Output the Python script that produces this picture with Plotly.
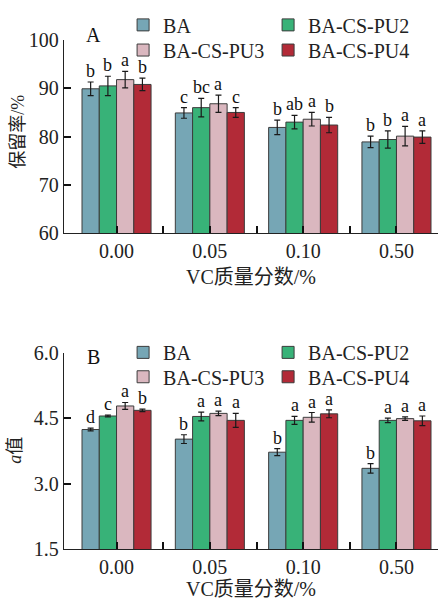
import plotly.graph_objects as go

# ---------------- data ----------------
categories = ["0.00", "0.05", "0.10", "0.50"]
series_names = ["BA", "BA-CS-PU2", "BA-CS-PU3", "BA-CS-PU4"]
colors = ["#76a6b5", "#38b278", "#dab7bf", "#b22a37"]

# Panel A: retention rate (%)
ret_BA = [89.9, 84.9, 81.9, 78.9]
ret_PU2 = [90.5, 86.0, 83.0, 79.4]
ret_PU3 = [91.8, 86.8, 83.6, 80.1]
ret_PU4 = [90.8, 85.0, 82.4, 79.9]
ret_err_BA = [1.4, 1.1, 1.5, 1.2]
ret_err_PU2 = [2.0, 1.9, 1.4, 1.8]
ret_err_PU3 = [1.7, 1.8, 1.4, 2.0]
ret_err_PU4 = [1.3, 1.0, 1.6, 1.3]
ret_sig_BA = ["b", "c", "b", "b"]
ret_sig_PU2 = ["b", "bc", "ab", "b"]
ret_sig_PU3 = ["a", "a", "a", "a"]
ret_sig_PU4 = ["b", "c", "b", "a"]

# Panel B: a* value
a_BA = [4.24, 4.02, 3.72, 3.35]
a_PU2 = [4.55, 4.54, 4.45, 4.45]
a_PU3 = [4.78, 4.61, 4.52, 4.49]
a_PU4 = [4.68, 4.45, 4.60, 4.44]
a_err_BA = [0.03, 0.10, 0.08, 0.11]
a_err_PU2 = [0.02, 0.10, 0.09, 0.05]
a_err_PU3 = [0.08, 0.05, 0.11, 0.04]
a_err_PU4 = [0.03, 0.16, 0.09, 0.11]
a_sig_BA = ["d", "b", "b", "b"]
a_sig_PU2 = ["c", "a", "a", "a"]
a_sig_PU3 = ["a", "a", "a", "a"]
a_sig_PU4 = ["b", "a", "a", "a"]

ret_vals = [ret_BA, ret_PU2, ret_PU3, ret_PU4]
ret_errs = [ret_err_BA, ret_err_PU2, ret_err_PU3, ret_err_PU4]
ret_sigs = [ret_sig_BA, ret_sig_PU2, ret_sig_PU3, ret_sig_PU4]
a_vals = [a_BA, a_PU2, a_PU3, a_PU4]
a_errs = [a_err_BA, a_err_PU2, a_err_PU3, a_err_PU4]
a_sigs = [a_sig_BA, a_sig_PU2, a_sig_PU3, a_sig_PU4]

# ---------------- style ----------------
SERIF = "Liberation Serif, Times New Roman, Noto Sans CJK SC, serif"
FS = 20
BARGAP = 0.26
n_series = len(series_names)
bar_w = (1 - BARGAP) / n_series
xpos = list(range(len(categories)))
XRANGE = [-0.563, 3.445]

# x tick positions: category centres (labelled) and group separators (unlabelled)
x_tickvals, x_ticktext = [], []
for i, c in zip(xpos, categories):
    x_tickvals.append(i)
    x_ticktext.append(c)
    if i < len(categories) - 1:
        x_tickvals.append(i + 0.5)
        x_ticktext.append("")

fig = go.Figure()
annotations = []

# each panel: two legend rows (first two series / last two series)
panels = [
    ("x", "y", ["legend", "legend", "legend3", "legend3"], ret_vals, ret_errs, ret_sigs),
    ("x2", "y2", ["legend2", "legend2", "legend4", "legend4"], a_vals, a_errs, a_sigs),
]
for xa, ya, legs, vals, errs, sigs in panels:
    for j in range(n_series):
        fig.add_trace(go.Bar(
            x=xpos, y=vals[j], name=series_names[j],
            xaxis=xa, yaxis=ya, legend=legs[j], offsetgroup=str(j),
            marker=dict(color=colors[j], line=dict(color="#3c3c3c", width=1)),
            error_y=dict(type="data", array=errs[j], color="#1a1a1a",
                         thickness=1.2, width=3),
        ))
        for i in xpos:
            annotations.append(dict(
                x=i + (j - (n_series - 1) / 2) * bar_w,
                y=vals[j][i] + errs[j][i],
                xref=xa, yref=ya, text=sigs[j][i], showarrow=False,
                yanchor="bottom", yshift=-1,
                font=dict(family=SERIF, size=18, color="#111"),
            ))

# panel letters and y-axis titles
annotations += [
    dict(x=0.08, y=1.01, xref="paper", yref="paper", text="A", showarrow=False,
         font=dict(family=SERIF, size=FS, color="#111"), xanchor="center", yanchor="middle"),
    dict(x=0.078, y=0.378, xref="paper", yref="paper", text="B", showarrow=False,
         font=dict(family=SERIF, size=FS, color="#111"), xanchor="center", yanchor="middle"),
    dict(x=-0.125, y=0.82, xref="paper", yref="paper", text="保留率/%", showarrow=False,
         textangle=-90, font=dict(family=SERIF, size=18, color="#222"),
         xanchor="center", yanchor="middle"),
    dict(x=-0.13, y=0.194, xref="paper", yref="paper", text="<i>a</i>值", showarrow=False,
         textangle=-90, font=dict(family=SERIF, size=18, color="#222"),
         xanchor="center", yanchor="middle"),
]

xaxis_common = dict(
    range=XRANGE, tickvals=x_tickvals, ticktext=x_ticktext,
    ticks="inside", ticklen=7, tickcolor="#111", tickwidth=1.6,
    showline=True, linecolor="#222", linewidth=1.3, showgrid=False, zeroline=False,
    tickfont=dict(family=SERIF, size=FS, color="#222"),
    title=dict(text="VC质量分数/%", font=dict(family=SERIF, size=FS, color="#222"),
               standoff=8),
)
yaxis_common = dict(
    showline=True, linecolor="#222", linewidth=1.3, showgrid=False, zeroline=False,
    ticks="inside", ticklen=7, tickcolor="#111", tickwidth=1.6,
    tickfont=dict(family=SERIF, size=FS, color="#222"),
)

legend_common = dict(
    orientation="h", xanchor="left", yanchor="top",
    font=dict(family=SERIF, size=FS, color="#222"),
    entrywidth=100, bgcolor="rgba(0,0,0,0)", traceorder="normal",
    itemclick=False, tracegroupgap=0, x=0.158,
)

fig.update_layout(
    width=438, height=600,
    margin=dict(l=64, r=0, t=40, b=49),
    paper_bgcolor="white", plot_bgcolor="white",
    barmode="group", bargap=BARGAP, bargroupgap=0,
    xaxis=dict(domain=[0, 1], anchor="y", **xaxis_common),
    yaxis=dict(domain=[0.6204, 1.0], anchor="x", range=[60, 100],
               tickvals=[60, 70, 80, 90, 100], **yaxis_common),
    xaxis2=dict(domain=[0, 1], anchor="y2", **xaxis_common),
    yaxis2=dict(domain=[0.0, 0.3855], anchor="x2", range=[1.5, 6.0],
                tickvals=[1.5, 3.0, 4.5, 6.0], ticktext=["1.5", "3.0", "4.5", "6.0"],
                **yaxis_common),
    legend=dict(y=1.068, **legend_common),
    legend3=dict(y=1.0186, **legend_common),
    legend2=dict(y=0.4246, **legend_common),
    legend4=dict(y=0.3767, **legend_common),
    annotations=annotations,
    showlegend=True,
)

fig.write_html("out.html")
